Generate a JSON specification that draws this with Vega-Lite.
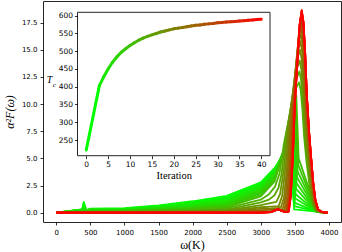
{
"$schema": "https://vega.github.io/schema/vega-lite/v6.json",
"width": 298, "height": 221,
"autosize": "none",
"padding": {"left": 43, "top": 1, "right": 1, "bottom": 30},
"background": "white",
"config": {
  "view": {"stroke": "#262626", "strokeWidth": 1},
  "axis": {"labelFont": "DejaVu Sans", "labelFontSize": 7, "labelColor": "#000", "tickColor": "#000", "tickSize": 3, "tickWidth": 0.8, "grid": false, "domain": false, "titleFont": "Liberation Serif", "titleFontWeight": "normal", "titleColor": "#000", "labelFlush": false, "labelOverlap": false, "labelBound": false}
},
"layer": [
  {
    "data": {"values": [
{"k":0,"w":0,"a":0},{"k":0,"w":380,"a":0.3},{"k":0,"w":402,"a":1.0},{"k":0,"w":445,"a":0.15},{"k":0,"w":490,"a":0.36},{"k":0,"w":1000,"a":0.42},{"k":0,"w":1500,"a":0.68},{"k":0,"w":2000,"a":1.05},{"k":0,"w":2500,"a":1.55},{"k":0,"w":3000,"a":2.8},{"k":0,"w":3200,"a":4.1},{"k":0,"w":3330,"a":5.3},{"k":0,"w":3420,"a":5.8},{"k":0,"w":3490,"a":0.3},{"k":0,"w":3820,"a":0.1},{"k":0,"w":3980,"a":0},
{"k":1,"w":0,"a":0},{"k":1,"w":380,"a":0.29},{"k":1,"w":402,"a":0.85},{"k":1,"w":445,"a":0.17},{"k":1,"w":490,"a":0.34},{"k":1,"w":1000,"a":0.38},{"k":1,"w":1500,"a":0.62},{"k":1,"w":2000,"a":0.95},{"k":1,"w":2500,"a":1.42},{"k":1,"w":3000,"a":2.68},{"k":1,"w":3200,"a":4.0},{"k":1,"w":3335,"a":5.45},{"k":1,"w":3430,"a":6.3},{"k":1,"w":3495,"a":0.6},{"k":1,"w":3820,"a":0.1},{"k":1,"w":3980,"a":0},
{"k":2,"w":0,"a":0},{"k":2,"w":380,"a":0.28},{"k":2,"w":402,"a":0.7},{"k":2,"w":445,"a":0.2},{"k":2,"w":490,"a":0.32},{"k":2,"w":1000,"a":0.35},{"k":2,"w":1500,"a":0.56},{"k":2,"w":2000,"a":0.86},{"k":2,"w":2500,"a":1.3},{"k":2,"w":3000,"a":2.55},{"k":2,"w":3200,"a":3.9},{"k":2,"w":3340,"a":5.6},{"k":2,"w":3440,"a":6.8},{"k":2,"w":3500,"a":0.9},{"k":2,"w":3820,"a":0.1},{"k":2,"w":3980,"a":0},
{"k":3,"w":0,"a":0},{"k":3,"w":390,"a":0.28},{"k":3,"w":405,"a":0.5},{"k":3,"w":450,"a":0.22},{"k":3,"w":495,"a":0.29},{"k":3,"w":1000,"a":0.31},{"k":3,"w":1500,"a":0.5},{"k":3,"w":2000,"a":0.78},{"k":3,"w":2500,"a":1.18},{"k":3,"w":3000,"a":2.42},{"k":3,"w":3200,"a":3.8},{"k":3,"w":3345,"a":5.75},{"k":3,"w":3450,"a":7.3},{"k":3,"w":3505,"a":1.3},{"k":3,"w":3820,"a":0.1},{"k":3,"w":3980,"a":0},
{"k":4,"w":0,"a":0},{"k":4,"w":400,"a":0.3},{"k":4,"w":500,"a":0.26},{"k":4,"w":1000,"a":0.28},{"k":4,"w":1500,"a":0.45},{"k":4,"w":2000,"a":0.7},{"k":4,"w":2500,"a":1.07},{"k":4,"w":3000,"a":2.3},{"k":4,"w":3200,"a":3.7},{"k":4,"w":3350,"a":5.9},{"k":4,"w":3460,"a":7.8},{"k":4,"w":3510,"a":1.7},{"k":4,"w":3820,"a":0.1},{"k":4,"w":3980,"a":0},
{"k":5,"w":0,"a":0},{"k":5,"w":500,"a":0.23},{"k":5,"w":1000,"a":0.25},{"k":5,"w":1500,"a":0.4},{"k":5,"w":2000,"a":0.62},{"k":5,"w":2500,"a":0.96},{"k":5,"w":3000,"a":2.18},{"k":5,"w":3200,"a":3.58},{"k":5,"w":3355,"a":6.0},{"k":5,"w":3470,"a":8.3},{"k":5,"w":3518,"a":2.2},{"k":5,"w":3820,"a":0.1},{"k":5,"w":3980,"a":0},
{"k":6,"w":0,"a":0},{"k":6,"w":500,"a":0.2},{"k":6,"w":1000,"a":0.22},{"k":6,"w":1500,"a":0.35},{"k":6,"w":2000,"a":0.55},{"k":6,"w":2500,"a":0.86},{"k":6,"w":3000,"a":2.05},{"k":6,"w":3200,"a":3.45},{"k":6,"w":3360,"a":6.1},{"k":6,"w":3480,"a":8.8},{"k":6,"w":3525,"a":2.7},{"k":6,"w":3820,"a":0.1},{"k":6,"w":3980,"a":0},
{"k":7,"w":0,"a":0},{"k":7,"w":500,"a":0.17},{"k":7,"w":1000,"a":0.19},{"k":7,"w":1500,"a":0.31},{"k":7,"w":2000,"a":0.48},{"k":7,"w":2500,"a":0.77},{"k":7,"w":3000,"a":1.92},{"k":7,"w":3200,"a":3.3},{"k":7,"w":3365,"a":6.2},{"k":7,"w":3490,"a":9.3},{"k":7,"w":3532,"a":3.25},{"k":7,"w":3820,"a":0.1},{"k":7,"w":3980,"a":0},
{"k":8,"w":0,"a":0},{"k":8,"w":500,"a":0.15},{"k":8,"w":1000,"a":0.17},{"k":8,"w":1500,"a":0.27},{"k":8,"w":2000,"a":0.42},{"k":8,"w":2500,"a":0.68},{"k":8,"w":3000,"a":1.8},{"k":8,"w":3200,"a":3.15},{"k":8,"w":3370,"a":6.3},{"k":8,"w":3500,"a":9.8},{"k":8,"w":3540,"a":3.8},{"k":8,"w":3820,"a":0.1},{"k":8,"w":3980,"a":0},
{"k":9,"w":0,"a":0},{"k":9,"w":500,"a":0.13},{"k":9,"w":1000,"a":0.15},{"k":9,"w":1500,"a":0.23},{"k":9,"w":2000,"a":0.37},{"k":9,"w":2500,"a":0.6},{"k":9,"w":3000,"a":1.65},{"k":9,"w":3200,"a":3.0},{"k":9,"w":3375,"a":6.4},{"k":9,"w":3510,"a":10.3},{"k":9,"w":3548,"a":4.4},{"k":9,"w":3820,"a":0.1},{"k":9,"w":3980,"a":0},
{"k":10,"w":0,"a":0},{"k":10,"w":500,"a":0.11},{"k":10,"w":1000,"a":0.13},{"k":10,"w":1500,"a":0.2},{"k":10,"w":2000,"a":0.32},{"k":10,"w":2500,"a":0.52},{"k":10,"w":3000,"a":1.5},{"k":10,"w":3200,"a":2.85},{"k":10,"w":3380,"a":6.5},{"k":10,"w":3520,"a":10.8},{"k":10,"w":3555,"a":5.0},{"k":10,"w":3820,"a":0.1},{"k":10,"w":3980,"a":0},
{"k":12,"w":0,"a":0},{"k":12,"w":500,"a":0.08},{"k":12,"w":1000,"a":0.09},{"k":12,"w":1500,"a":0.15},{"k":12,"w":2000,"a":0.23},{"k":12,"w":2500,"a":0.4},{"k":12,"w":3000,"a":1.2},{"k":12,"w":3120,"a":1.7},{"k":12,"w":3208,"a":2.4},{"k":12,"w":3274,"a":3.6},{"k":12,"w":3340,"a":6.4},{"k":12,"w":3428,"a":9.1},{"k":12,"w":3494,"a":11.2},{"k":12,"w":3560,"a":12.0},{"k":12,"w":3585,"a":11.3},{"k":12,"w":3610,"a":9.5},{"k":12,"w":3635,"a":7.0},{"k":12,"w":3670,"a":4.7},{"k":12,"w":3700,"a":3.2},{"k":12,"w":3730,"a":1.75},{"k":12,"w":3760,"a":0.8},{"k":12,"w":3800,"a":0.2},{"k":12,"w":3860,"a":0.04},{"k":12,"w":3980,"a":0},
{"k":14,"w":0,"a":0},{"k":14,"w":500,"a":0.06},{"k":14,"w":1000,"a":0.07},{"k":14,"w":1500,"a":0.11},{"k":14,"w":2000,"a":0.17},{"k":14,"w":2500,"a":0.29},{"k":14,"w":3000,"a":0.95},{"k":14,"w":3120,"a":1.2},{"k":14,"w":3200,"a":1.6},{"k":14,"w":3260,"a":2.3},{"k":14,"w":3305,"a":3.6},{"k":14,"w":3365,"a":7.0},{"k":14,"w":3445,"a":9.9},{"k":14,"w":3505,"a":12.1},{"k":14,"w":3565,"a":13.0},{"k":14,"w":3590,"a":12.26},{"k":14,"w":3615,"a":10.3},{"k":14,"w":3640,"a":7.5},{"k":14,"w":3675,"a":5.1},{"k":14,"w":3705,"a":3.4},{"k":14,"w":3735,"a":1.9},{"k":14,"w":3765,"a":0.83},{"k":14,"w":3805,"a":0.21},{"k":14,"w":3865,"a":0.04},{"k":14,"w":3980,"a":0},
{"k":16,"w":0,"a":0},{"k":16,"w":500,"a":0.04},{"k":16,"w":1000,"a":0.05},{"k":16,"w":1500,"a":0.08},{"k":16,"w":2000,"a":0.12},{"k":16,"w":2500,"a":0.2},{"k":16,"w":3000,"a":0.7},{"k":16,"w":3120,"a":0.85},{"k":16,"w":3228,"a":1.0},{"k":16,"w":3282,"a":1.7},{"k":16,"w":3336,"a":3.9},{"k":16,"w":3390,"a":7.56},{"k":16,"w":3462,"a":10.6},{"k":16,"w":3516,"a":13.0},{"k":16,"w":3570,"a":14.0},{"k":16,"w":3595,"a":13.2},{"k":16,"w":3620,"a":11.1},{"k":16,"w":3645,"a":8.1},{"k":16,"w":3680,"a":5.5},{"k":16,"w":3710,"a":3.7},{"k":16,"w":3740,"a":2.0},{"k":16,"w":3770,"a":0.9},{"k":16,"w":3810,"a":0.22},{"k":16,"w":3870,"a":0.04},{"k":16,"w":3980,"a":0},
{"k":18,"w":0,"a":0},{"k":18,"w":500,"a":0.03},{"k":18,"w":1000,"a":0.035},{"k":18,"w":1500,"a":0.055},{"k":18,"w":2000,"a":0.085},{"k":18,"w":2500,"a":0.14},{"k":18,"w":3000,"a":0.5},{"k":18,"w":3150,"a":0.55},{"k":18,"w":3262,"a":0.6},{"k":18,"w":3311,"a":1.5},{"k":18,"w":3361,"a":4.1},{"k":18,"w":3410,"a":8.1},{"k":18,"w":3476,"a":11.4},{"k":18,"w":3525,"a":13.95},{"k":18,"w":3575,"a":15.0},{"k":18,"w":3600,"a":14.1},{"k":18,"w":3625,"a":11.9},{"k":18,"w":3650,"a":8.7},{"k":18,"w":3685,"a":5.9},{"k":18,"w":3715,"a":3.95},{"k":18,"w":3745,"a":2.2},{"k":18,"w":3775,"a":0.96},{"k":18,"w":3815,"a":0.24},{"k":18,"w":3875,"a":0.05},{"k":18,"w":3980,"a":0},
{"k":20,"w":0,"a":0},{"k":20,"w":500,"a":0.02},{"k":20,"w":1000,"a":0.025},{"k":20,"w":1500,"a":0.04},{"k":20,"w":2000,"a":0.06},{"k":20,"w":2500,"a":0.09},{"k":20,"w":3000,"a":0.35},{"k":20,"w":3150,"a":0.4},{"k":20,"w":3250,"a":0.45},{"k":20,"w":3295,"a":0.5},{"k":20,"w":3340,"a":1.4},{"k":20,"w":3385,"a":4.3},{"k":20,"w":3430,"a":8.5},{"k":20,"w":3490,"a":12.0},{"k":20,"w":3535,"a":14.7},{"k":20,"w":3580,"a":15.8},{"k":20,"w":3605,"a":14.9},{"k":20,"w":3630,"a":12.5},{"k":20,"w":3655,"a":9.15},{"k":20,"w":3690,"a":6.2},{"k":20,"w":3720,"a":4.15},{"k":20,"w":3750,"a":2.3},{"k":20,"w":3780,"a":1.0},{"k":20,"w":3820,"a":0.25},{"k":20,"w":3880,"a":0.05},{"k":20,"w":3980,"a":0},
{"k":22,"w":0,"a":0},{"k":22,"w":500,"a":0.012},{"k":22,"w":1000,"a":0.015},{"k":22,"w":1500,"a":0.025},{"k":22,"w":2000,"a":0.035},{"k":22,"w":2500,"a":0.05},{"k":22,"w":3000,"a":0.22},{"k":22,"w":3150,"a":0.28},{"k":22,"w":3250,"a":0.35},{"k":22,"w":3319,"a":0.3},{"k":22,"w":3361,"a":1.4},{"k":22,"w":3403,"a":4.46},{"k":22,"w":3445,"a":8.9},{"k":22,"w":3501,"a":12.5},{"k":22,"w":3543,"a":15.3},{"k":22,"w":3585,"a":16.5},{"k":22,"w":3610,"a":15.6},{"k":22,"w":3635,"a":13.1},{"k":22,"w":3660,"a":9.55},{"k":22,"w":3695,"a":6.45},{"k":22,"w":3725,"a":4.3},{"k":22,"w":3755,"a":2.4},{"k":22,"w":3785,"a":1.05},{"k":22,"w":3825,"a":0.26},{"k":22,"w":3885,"a":0.05},{"k":22,"w":3980,"a":0},
{"k":24,"w":0,"a":0},{"k":24,"w":500,"a":0.006},{"k":24,"w":1000,"a":0.008},{"k":24,"w":1500,"a":0.012},{"k":24,"w":2000,"a":0.02},{"k":24,"w":2500,"a":0.03},{"k":24,"w":3000,"a":0.12},{"k":24,"w":3150,"a":0.15},{"k":24,"w":3250,"a":0.3},{"k":24,"w":3343,"a":0.2},{"k":24,"w":3382,"a":1.37},{"k":24,"w":3421,"a":4.6},{"k":24,"w":3460,"a":9.2},{"k":24,"w":3512,"a":13.0},{"k":24,"w":3551,"a":15.9},{"k":24,"w":3590,"a":17.1},{"k":24,"w":3615,"a":16.1},{"k":24,"w":3640,"a":13.6},{"k":24,"w":3665,"a":9.9},{"k":24,"w":3700,"a":6.7},{"k":24,"w":3730,"a":4.5},{"k":24,"w":3760,"a":2.5},{"k":24,"w":3790,"a":1.1},{"k":24,"w":3830,"a":0.27},{"k":24,"w":3890,"a":0.05},{"k":24,"w":3980,"a":0},
{"k":26,"w":0,"a":0},{"k":26,"w":1000,"a":0},{"k":26,"w":1500,"a":0.005},{"k":26,"w":2000,"a":0.01},{"k":26,"w":2500,"a":0.015},{"k":26,"w":3000,"a":0.06},{"k":26,"w":3150,"a":0.1},{"k":26,"w":3250,"a":0.3},{"k":26,"w":3340,"a":0.1},{"k":26,"w":3365,"a":0.12},{"k":26,"w":3401,"a":1.4},{"k":26,"w":3437,"a":4.75},{"k":26,"w":3473,"a":9.5},{"k":26,"w":3521,"a":13.4},{"k":26,"w":3557,"a":16.4},{"k":26,"w":3593,"a":17.6},{"k":26,"w":3618,"a":16.6},{"k":26,"w":3643,"a":14.0},{"k":26,"w":3668,"a":10.2},{"k":26,"w":3703,"a":6.9},{"k":26,"w":3733,"a":4.6},{"k":26,"w":3763,"a":2.55},{"k":26,"w":3793,"a":1.13},{"k":26,"w":3833,"a":0.28},{"k":26,"w":3893,"a":0.05},{"k":26,"w":3980,"a":0},
{"k":28,"w":0,"a":0},{"k":28,"w":2500,"a":0},{"k":28,"w":3000,"a":0.03},{"k":28,"w":3150,"a":0.07},{"k":28,"w":3250,"a":0.31},{"k":28,"w":3350,"a":0.07},{"k":28,"w":3381,"a":0.09},{"k":28,"w":3415,"a":1.44},{"k":28,"w":3449,"a":4.86},{"k":28,"w":3483,"a":9.7},{"k":28,"w":3528,"a":13.7},{"k":28,"w":3562,"a":16.7},{"k":28,"w":3596,"a":18.0},{"k":28,"w":3621,"a":17.0},{"k":28,"w":3646,"a":14.3},{"k":28,"w":3671,"a":10.4},{"k":28,"w":3706,"a":7.0},{"k":28,"w":3736,"a":4.7},{"k":28,"w":3766,"a":2.6},{"k":28,"w":3796,"a":1.15},{"k":28,"w":3836,"a":0.29},{"k":28,"w":3896,"a":0.05},{"k":28,"w":3980,"a":0},
{"k":30,"w":0,"a":0},{"k":30,"w":3000,"a":0},{"k":30,"w":3150,"a":0.06},{"k":30,"w":3250,"a":0.32},{"k":30,"w":3350,"a":0.06},{"k":30,"w":3393,"a":0.09},{"k":30,"w":3425,"a":1.46},{"k":30,"w":3458,"a":4.94},{"k":30,"w":3490,"a":9.9},{"k":30,"w":3533,"a":13.9},{"k":30,"w":3566,"a":17.0},{"k":30,"w":3598,"a":18.3},{"k":30,"w":3623,"a":17.3},{"k":30,"w":3648,"a":14.5},{"k":30,"w":3673,"a":10.6},{"k":30,"w":3708,"a":7.15},{"k":30,"w":3738,"a":4.8},{"k":30,"w":3768,"a":2.65},{"k":30,"w":3798,"a":1.17},{"k":30,"w":3838,"a":0.29},{"k":30,"w":3898,"a":0.05},{"k":30,"w":3980,"a":0},
{"k":32,"w":0,"a":0},{"k":32,"w":3000,"a":0},{"k":32,"w":3150,"a":0.05},{"k":32,"w":3250,"a":0.32},{"k":32,"w":3350,"a":0.06},{"k":32,"w":3400,"a":0.09},{"k":32,"w":3432,"a":1.48},{"k":32,"w":3463,"a":4.98},{"k":32,"w":3495,"a":9.96},{"k":32,"w":3537,"a":14.0},{"k":32,"w":3568,"a":17.2},{"k":32,"w":3600,"a":18.45},{"k":32,"w":3625,"a":17.4},{"k":32,"w":3650,"a":14.6},{"k":32,"w":3675,"a":10.7},{"k":32,"w":3710,"a":7.2},{"k":32,"w":3740,"a":4.85},{"k":32,"w":3770,"a":2.68},{"k":32,"w":3800,"a":1.18},{"k":32,"w":3840,"a":0.3},{"k":32,"w":3900,"a":0.05},{"k":32,"w":3980,"a":0},
{"k":34,"w":0,"a":0},{"k":34,"w":3000,"a":0},{"k":34,"w":3150,"a":0.05},{"k":34,"w":3250,"a":0.32},{"k":34,"w":3350,"a":0.06},{"k":34,"w":3404,"a":0.09},{"k":34,"w":3435,"a":1.48},{"k":34,"w":3466,"a":5.0},{"k":34,"w":3497,"a":9.95},{"k":34,"w":3538,"a":14.1},{"k":34,"w":3569,"a":17.25},{"k":34,"w":3600,"a":18.55},{"k":34,"w":3625,"a":17.5},{"k":34,"w":3650,"a":14.7},{"k":34,"w":3675,"a":10.75},{"k":34,"w":3710,"a":7.25},{"k":34,"w":3740,"a":4.88},{"k":34,"w":3770,"a":2.69},{"k":34,"w":3800,"a":1.19},{"k":34,"w":3840,"a":0.3},{"k":34,"w":3900,"a":0.05},{"k":34,"w":3980,"a":0},
{"k":36,"w":0,"a":0},{"k":36,"w":3000,"a":0},{"k":36,"w":3150,"a":0.05},{"k":36,"w":3250,"a":0.32},{"k":36,"w":3350,"a":0.06},{"k":36,"w":3408,"a":0.09},{"k":36,"w":3438,"a":1.49},{"k":36,"w":3469,"a":5.02},{"k":36,"w":3499,"a":10.0},{"k":36,"w":3539,"a":14.14},{"k":36,"w":3570,"a":17.3},{"k":36,"w":3600,"a":18.6},{"k":36,"w":3625,"a":17.54},{"k":36,"w":3650,"a":14.75},{"k":36,"w":3675,"a":10.77},{"k":36,"w":3710,"a":7.27},{"k":36,"w":3740,"a":4.9},{"k":36,"w":3770,"a":2.7},{"k":36,"w":3800,"a":1.19},{"k":36,"w":3840,"a":0.3},{"k":36,"w":3900,"a":0.05},{"k":36,"w":3980,"a":0},
{"k":38,"w":0,"a":0},{"k":38,"w":3000,"a":0},{"k":38,"w":3150,"a":0.05},{"k":38,"w":3250,"a":0.32},{"k":38,"w":3350,"a":0.06},{"k":38,"w":3409,"a":0.1},{"k":38,"w":3439,"a":1.5},{"k":38,"w":3470,"a":5.0},{"k":38,"w":3500,"a":10.0},{"k":38,"w":3540,"a":14.18},{"k":38,"w":3570,"a":17.37},{"k":38,"w":3600,"a":18.63},{"k":38,"w":3625,"a":17.57},{"k":38,"w":3650,"a":14.78},{"k":38,"w":3675,"a":10.79},{"k":38,"w":3710,"a":7.29},{"k":38,"w":3740,"a":4.9},{"k":38,"w":3770,"a":2.7},{"k":38,"w":3800,"a":1.2},{"k":38,"w":3840,"a":0.3},{"k":38,"w":3900,"a":0.05},{"k":38,"w":3980,"a":0},
{"k":40,"w":0,"a":0},{"k":40,"w":3000,"a":0},{"k":40,"w":3150,"a":0.05},{"k":40,"w":3250,"a":0.32},{"k":40,"w":3350,"a":0.06},{"k":40,"w":3410,"a":0.1},{"k":40,"w":3440,"a":1.5},{"k":40,"w":3470,"a":5.0},{"k":40,"w":3500,"a":10.0},{"k":40,"w":3540,"a":14.2},{"k":40,"w":3570,"a":17.4},{"k":40,"w":3600,"a":18.66},{"k":40,"w":3625,"a":17.6},{"k":40,"w":3650,"a":14.8},{"k":40,"w":3675,"a":10.8},{"k":40,"w":3710,"a":7.3},{"k":40,"w":3740,"a":4.9},{"k":40,"w":3770,"a":2.7},{"k":40,"w":3800,"a":1.2},{"k":40,"w":3840,"a":0.3},{"k":40,"w":3900,"a":0.05},{"k":40,"w":3980,"a":0}
    ]},
    "mark": {"type": "line", "strokeWidth": 1.8, "strokeJoin": "round"},
    "encoding": {
      "x": {"field": "w", "type": "quantitative", "scale": {"domain": [-195, 4176], "nice": false, "zero": false},
            "axis": {"values": [0,500,1000,1500,2000,2500,3000,3500,4000], "format": "d", "labelOverlap": false, "title": "ω(K)", "titleFontSize": 12, "labelPadding": 3, "titlePadding": 4}},
      "y": {"field": "a", "type": "quantitative", "scale": {"domain": [-0.86, 19.5], "nice": false, "zero": false},
            "axis": {"values": [0,2.5,5,7.5,10,12.5,15,17.5], "format": ".1f", "labelOverlap": false, "title": "α²F(ω)", "titleFontSize": 12, "titleFontStyle": "italic", "labelPadding": 3, "titlePadding": 5}},
      "color": {"field": "k", "type": "quantitative", "scale": {"domain": [0, 40], "range": ["#00ff00", "#ff0000"], "interpolate": "rgb"}, "legend": null},
      "detail": {"field": "k", "type": "nominal"}
    }
  },
  {
    "layer": [
      {
        "data": {"values": [{}]},
        "mark": {"type": "rect", "fill": "white", "stroke": "#262626", "strokeWidth": 1},
        "encoding": {
          "x": {"datum": -2, "type": "quantitative", "scale": {"domain": [-2, 42], "range": [34.5, 227], "nice": false, "zero": false},
                "axis": {"orient": "bottom", "offset": -66.3, "values": [0,5,10,15,20,25,30,35,40], "format": "d", "labelOverlap": false, "title": "Iteration", "titleFontSize": 10.5, "labelPadding": 2, "titlePadding": 2, "labelFontSize": 7.5, "zindex": 1}},
          "x2": {"datum": 42},
          "y": {"datum": 205.8, "type": "quantitative", "scale": {"domain": [205.8, 609.6], "range": [154.7, 11.3], "nice": false, "zero": false},
                "axis": {"orient": "left", "offset": -34.5, "values": [250,300,350,400,450,500,550,600], "format": "d", "labelOverlap": false, "title": null, "labelPadding": 2, "labelFontSize": 7.5, "zindex": 1}},
          "y2": {"datum": 609.6}
        }
      },
      {
        "data": {"values": [
{"k":0,"tc":222,"k2":3,"tc2":403},{"k":3,"tc":403,"k2":4,"tc2":428},{"k":4,"tc":428,"k2":5,"tc2":450},{"k":5,"tc":450,"k2":6,"tc2":469},{"k":6,"tc":469,"k2":7,"tc2":484},{"k":7,"tc":484,"k2":8,"tc2":497},{"k":8,"tc":497,"k2":9,"tc2":507},{"k":9,"tc":507,"k2":10,"tc2":516},{"k":10,"tc":516,"k2":11,"tc2":524},{"k":11,"tc":524,"k2":12,"tc2":531},{"k":12,"tc":531,"k2":13,"tc2":537},{"k":13,"tc":537,"k2":14,"tc2":542},{"k":14,"tc":542,"k2":15,"tc2":546},{"k":15,"tc":546,"k2":16,"tc2":550},{"k":16,"tc":550,"k2":17,"tc2":554},{"k":17,"tc":554,"k2":18,"tc2":557},{"k":18,"tc":557,"k2":19,"tc2":560},{"k":19,"tc":560,"k2":20,"tc2":563},{"k":20,"tc":563,"k2":21,"tc2":565},{"k":21,"tc":565,"k2":22,"tc2":567},{"k":22,"tc":567,"k2":23,"tc2":569},{"k":23,"tc":569,"k2":24,"tc2":571},{"k":24,"tc":571,"k2":25,"tc2":573},{"k":25,"tc":573,"k2":26,"tc2":574},{"k":26,"tc":574,"k2":27,"tc2":576},{"k":27,"tc":576,"k2":28,"tc2":577},{"k":28,"tc":577,"k2":29,"tc2":578},{"k":29,"tc":578,"k2":30,"tc2":580},{"k":30,"tc":580,"k2":31,"tc2":581},{"k":31,"tc":581,"k2":32,"tc2":582},{"k":32,"tc":582,"k2":33,"tc2":583},{"k":33,"tc":583,"k2":34,"tc2":584},{"k":34,"tc":584,"k2":35,"tc2":585},{"k":35,"tc":585,"k2":36,"tc2":586},{"k":36,"tc":586,"k2":37,"tc2":587},{"k":37,"tc":587,"k2":38,"tc2":588},{"k":38,"tc":588,"k2":39,"tc2":589},{"k":39,"tc":589,"k2":40,"tc2":590}
        ]},
        "mark": {"type": "rule", "strokeWidth": 3, "strokeCap": "round"},
        "encoding": {
          "x": {"field": "k", "type": "quantitative", "scale": {"domain": [-2, 42], "range": [34.5, 227], "nice": false, "zero": false},
                "axis": {"orient": "bottom", "offset": -66.3, "values": [0,5,10,15,20,25,30,35,40], "format": "d", "labelOverlap": false, "title": "Iteration", "titleFontSize": 10.5, "labelPadding": 2, "titlePadding": 2, "labelFontSize": 7.5, "zindex": 1}},
          "x2": {"field": "k2"},
          "y": {"field": "tc", "type": "quantitative", "scale": {"domain": [205.8, 609.6], "range": [154.7, 11.3], "nice": false, "zero": false},
                "axis": {"orient": "left", "offset": -34.5, "values": [250,300,350,400,450,500,550,600], "format": "d", "labelOverlap": false, "title": null, "labelPadding": 2, "labelFontSize": 7.5, "zindex": 1}},
          "y2": {"field": "tc2"},
          "color": {"field": "k", "type": "quantitative", "legend": null}
        }
      },
      {
        "data": {"values": [{"t": "T", "ix": -8.4, "iy": 418}]},
        "mark": {"type": "text", "font": "Liberation Serif", "fontStyle": "italic", "fontSize": 10, "align": "center", "baseline": "middle"},
        "encoding": {
          "text": {"field": "t"},
          "x": {"field": "ix", "type": "quantitative", "scale": {"domain": [-2, 42], "range": [34.5, 227], "nice": false, "zero": false},
                "axis": {"orient": "bottom", "offset": -66.3, "values": [0,5,10,15,20,25,30,35,40], "format": "d", "labelOverlap": false, "title": "Iteration", "titleFontSize": 10.5, "labelPadding": 2, "titlePadding": 2, "labelFontSize": 7.5, "zindex": 1}},
          "y": {"field": "iy", "type": "quantitative", "scale": {"domain": [205.8, 609.6], "range": [154.7, 11.3], "nice": false, "zero": false},
                "axis": {"orient": "left", "offset": -34.5, "values": [250,300,350,400,450,500,550,600], "format": "d", "labelOverlap": false, "title": null, "labelPadding": 2, "labelFontSize": 7.5, "zindex": 1}}
        }
      },
      {
        "data": {"values": [{"t": "c", "ix": -7.3, "iy": 404}]},
        "mark": {"type": "text", "font": "Liberation Serif", "fontStyle": "italic", "fontSize": 7, "align": "center", "baseline": "middle"},
        "encoding": {
          "text": {"field": "t"},
          "x": {"field": "ix", "type": "quantitative", "scale": {"domain": [-2, 42], "range": [34.5, 227], "nice": false, "zero": false},
                "axis": {"orient": "bottom", "offset": -66.3, "values": [0,5,10,15,20,25,30,35,40], "format": "d", "labelOverlap": false, "title": "Iteration", "titleFontSize": 10.5, "labelPadding": 2, "titlePadding": 2, "labelFontSize": 7.5, "zindex": 1}},
          "y": {"field": "iy", "type": "quantitative", "scale": {"domain": [205.8, 609.6], "range": [154.7, 11.3], "nice": false, "zero": false},
                "axis": {"orient": "left", "offset": -34.5, "values": [250,300,350,400,450,500,550,600], "format": "d", "labelOverlap": false, "title": null, "labelPadding": 2, "labelFontSize": 7.5, "zindex": 1}}
        }
      }
    ]
  }
],
"resolve": {"scale": {"x": "independent", "y": "independent"}, "axis": {"x": "independent", "y": "independent"}}
}
